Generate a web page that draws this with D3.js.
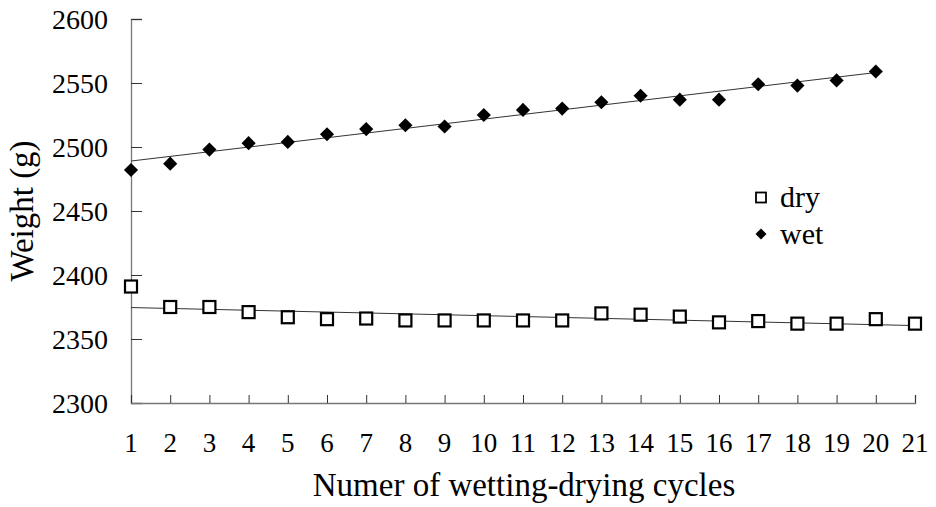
<!DOCTYPE html>
<html>
<head>
<meta charset="utf-8">
<script src="https://cdn.jsdelivr.net/npm/d3@7"></script>
<style>
  html, body { margin: 0; padding: 0; background: #fff; }
  svg { display: block; }
</style>
</head>
<body>
<svg id="chart" width="936" height="507" font-family="Liberation Serif"></svg>
<script>
// ---- data ----
const cycles = d3.range(1, 22); // tick labels 1..21
const dryCycles = d3.range(1, 22);
const dryValues = [2391, 2375, 2375, 2371, 2367, 2365.5, 2366, 2364.5, 2364.5, 2364.5, 2364.5, 2364.5, 2370, 2369, 2367.5, 2363, 2364, 2362, 2362, 2365.5, 2362];
const wetCycles = d3.range(1, 21);
const wetValues = [2482, 2487, 2498, 2503, 2504, 2510, 2514, 2517, 2516, 2525, 2529, 2530, 2535, 2540, 2537, 2537, 2549, 2548, 2552, 2559];
const yTicks = [2300, 2350, 2400, 2450, 2500, 2550, 2600];
const seriesNames = ["dry", "wet"];

const FONT = "Liberation Serif";

// ---- layout ----
const svg = d3.select("#chart");
const x = d3.scaleLinear().domain([1, 21]).range([131, 915]);
const y = d3.scaleLinear().domain([2300, 2600]).range([403, 19]);

function regression(xs, ys) {
  const mx = d3.mean(xs), my = d3.mean(ys);
  let sxy = 0, sxx = 0;
  xs.forEach((xv, i) => { sxy += (xv - mx) * (ys[i] - my); sxx += (xv - mx) * (xv - mx); });
  const b = sxy / sxx;
  return v => my + b * (v - mx);
}

// axes
const yAxis = d3.axisRight(y).tickValues(yTicks).tickSize(11).tickFormat("");
const gy = svg.append("g").attr("transform", `translate(${x(1)},0)`).call(yAxis);
const xAxis = d3.axisTop(x).tickValues(cycles).tickSize(8).tickFormat("");
const gx = svg.append("g").attr("transform", `translate(0,${y(2300)})`).call(xAxis);
[gx, gy].forEach(g => {
  g.select(".domain").attr("stroke", "#777").attr("stroke-width", 1.3);
  g.selectAll(".tick line").attr("stroke", "#333").attr("stroke-width", 1);
});

// tick labels
svg.append("g").selectAll("text").data(yTicks).join("text")
  .attr("font-family", FONT)
  .attr("x", 108).attr("y", d => y(d)).attr("dy", "0.35em")
  .attr("text-anchor", "end").attr("font-size", 28).text(d => d);
svg.append("g").selectAll("text").data(cycles).join("text")
  .attr("font-family", FONT)
  .attr("x", d => x(d)).attr("y", 452)
  .attr("text-anchor", "middle").attr("font-size", 27).text(d => d);

// axis titles
svg.append("text").attr("font-family", FONT).attr("x", 524).attr("y", 496).attr("text-anchor", "middle")
  .attr("font-size", 33).text("Numer of wetting-drying cycles");
svg.append("text").attr("font-family", FONT).attr("transform", "translate(33,211) rotate(-90)")
  .attr("text-anchor", "middle").attr("font-size", 33).text("Weight (g)");

// trend lines
const fDry = regression(dryCycles, dryValues);
const fWet = regression(wetCycles, wetValues);
svg.append("line").attr("x1", x(1)).attr("x2", x(21))
  .attr("y1", y(fDry(1))).attr("y2", y(fDry(21)))
  .attr("stroke", "#333").attr("stroke-width", 1);
svg.append("line").attr("x1", x(1)).attr("x2", x(20))
  .attr("y1", y(fWet(1))).attr("y2", y(fWet(20)))
  .attr("stroke", "#333").attr("stroke-width", 1);

// markers
const sq = 12;
svg.append("g").selectAll("rect").data(dryCycles).join("rect")
  .attr("x", (d) => x(d) - sq / 2).attr("y", (d, i) => y(dryValues[i]) - sq / 2)
  .attr("width", sq).attr("height", sq)
  .attr("fill", "#fff").attr("stroke", "#000").attr("stroke-width", 2.2);
const diamond = d3.symbol().type(d3.symbolSquare).size(100);
svg.append("g").selectAll("path").data(wetCycles).join("path")
  .attr("d", diamond)
  .attr("transform", (d, i) => `translate(${x(d)},${y(wetValues[i])}) rotate(45)`)
  .attr("fill", "#000");

// legend
const lg = svg.append("g");
lg.append("rect").attr("x", 756).attr("y", 192.5).attr("width", 10).attr("height", 10)
  .attr("fill", "#fff").attr("stroke", "#000").attr("stroke-width", 1.8);
lg.append("path").attr("d", d3.symbol().type(d3.symbolSquare).size(60))
  .attr("transform", "translate(761,234) rotate(45)").attr("fill", "#000");
lg.append("text").attr("font-family", FONT).attr("x", 780).attr("y", 207).attr("font-size", 30).text(seriesNames[0]);
lg.append("text").attr("font-family", FONT).attr("x", 780).attr("y", 244).attr("font-size", 30).text(seriesNames[1]);
</script>
</body>
</html>
